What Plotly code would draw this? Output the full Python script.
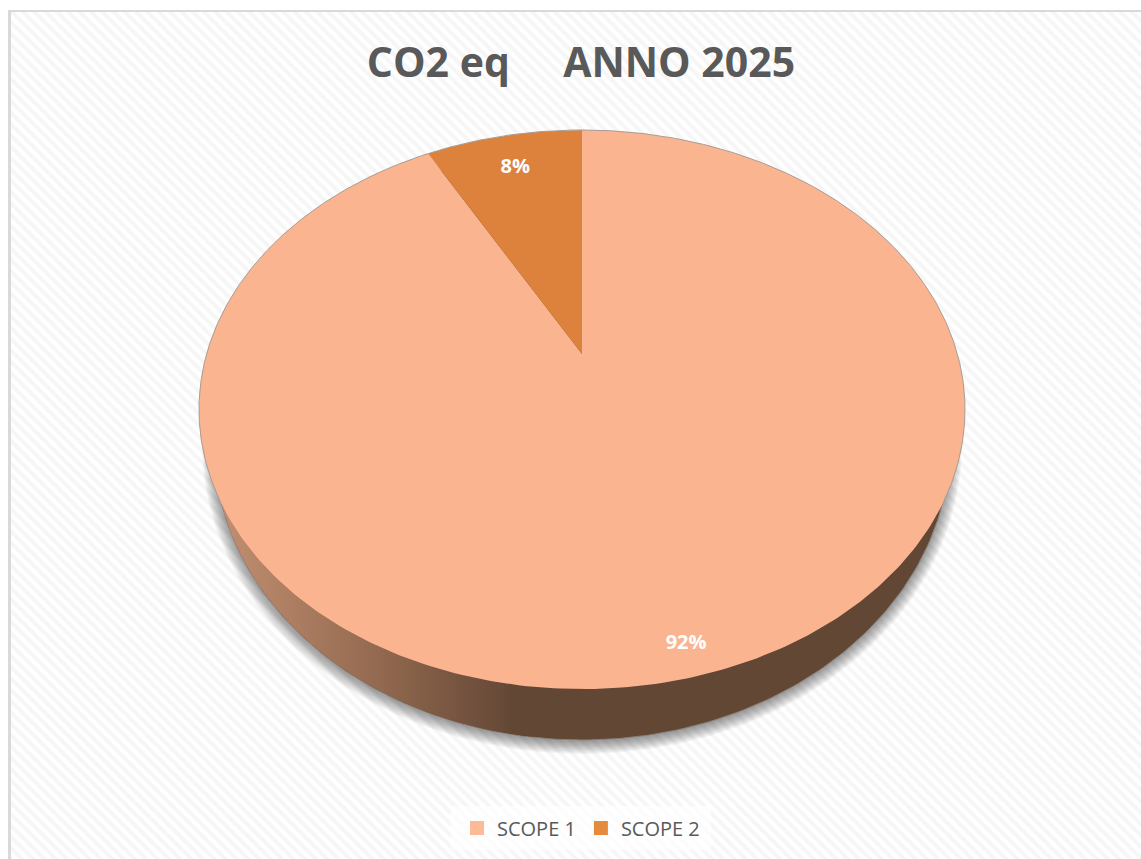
import numpy as np
import plotly.graph_objects as go

categories = ["SCOPE 1", "SCOPE 2"]
values = [92, 8]
slice_colors = ["#FBB490", "#DC823C"]
legend_colors = ["#FDBA96", "#E68A3E"]
title_text = "CO2 eq\u00a0\u00a0\u00a0\u00a0\u00a0ANNO 2025"

# projected disc
CX, CY0 = 582, 354
A, B, K = 375.4, 268.5, 0.1986


def project(frac, r=1.0):
    t = 2 * np.pi * np.asarray(frac, dtype=float)
    u, v = r * np.sin(t), r * np.cos(t)
    d = 1 + K * v
    return CX + A * u / d, CY0 - B * v / d


LOW = dict(cx=582, cy=444, rx=368, ry=296)


def low_y(x):
    return LOW["cy"] + LOW["ry"] * np.sqrt(np.clip(1 - ((x - LOW["cx"]) / LOW["rx"]) ** 2, 0, 1))


fig = go.Figure()

# hatched background
fig.add_trace(go.Scatter(
    x=[10, 1141, 1141, 10, 10], y=[11, 11, 859, 859, 11], mode="lines",
    fill="toself", line=dict(width=0), fillcolor="#FFFFFF",
    fillpattern=dict(shape="\\", fgcolor="#EEEEEE", bgcolor="#FFFFFF", size=8, solidity=0.5),
    hoverinfo="skip", showlegend=False))

# soft shadow
th = np.linspace(0, 2 * np.pi, 361)
for i in range(10):
    grow = 12 - i * 1.3
    fig.add_trace(go.Scatter(
        x=LOW["cx"] + (LOW["rx"] + grow) * np.cos(th),
        y=LOW["cy"] + 2 + (LOW["ry"] + grow) * np.sin(th),
        mode="lines", fill="toself", line=dict(width=0), fillcolor="rgba(0,0,0,0.045)",
        hoverinfo="skip", showlegend=False))

# side wall
fig.add_trace(go.Scatter(
    x=LOW["cx"] + LOW["rx"] * np.cos(th), y=LOW["cy"] + LOW["ry"] * np.sin(th),
    mode="lines", fill="toself", line=dict(width=1, color="#8A8078"), fillcolor="#624735",
    hoverinfo="skip", showlegend=False))
stops_x = [214, 380, 515]
stops_r = [196, 146, 98]
stops_g = [144, 105, 71]
stops_b = [114, 79, 53]
edges = np.arange(216, 530, 4)
for x0 in edges:
    xs = np.linspace(x0, x0 + 4.6, 4)
    col = "rgb(%d,%d,%d)" % (np.interp(x0, stops_x, stops_r), np.interp(x0, stops_x, stops_g), np.interp(x0, stops_x, stops_b))
    fig.add_trace(go.Scatter(
        x=np.r_[xs, xs[::-1]], y=np.r_[low_y(xs) - 0.5, np.full(4, LOW["cy"] + 40)],
        mode="lines", fill="toself", line=dict(width=0), fillcolor=col,
        hoverinfo="skip", showlegend=False))

# top face slices
bounds = np.cumsum([0] + values) / sum(values)
for i, name in enumerate(categories):
    f = np.linspace(bounds[i], bounds[i + 1], 400)
    x, y = project(f)
    fig.add_trace(go.Scatter(
        x=np.r_[CX, x, CX], y=np.r_[CY0, y, CY0], mode="lines", fill="toself",
        line=dict(width=0), fillcolor=slice_colors[i], hoverinfo="skip", showlegend=False))
f = np.linspace(0, 1, 720)
x, y = project(f)
y = np.where(y < 503, y, np.nan)
fig.add_trace(go.Scatter(x=x, y=y, mode="lines", line=dict(width=1, color="#A89C94"),
                         hoverinfo="skip", showlegend=False))

# percentage labels
label_r = [0.918, 0.83]
for i, v in enumerate(values):
    mid = (bounds[i] + bounds[i + 1]) / 2
    x, y = project(mid, label_r[i])
    fig.add_trace(go.Scatter(
        x=[float(x)], y=[float(y)], mode="text",
        text=["%d%%" % round(100 * v / sum(values))], textposition="middle center",
        textfont=dict(family="Open Sans", size=20, color="#FFFFFF", weight="bold"),
        hoverinfo="skip", showlegend=False))

# legend entries
for name, c in zip(categories, legend_colors):
    fig.add_trace(go.Scatter(
        x=[None], y=[None], mode="markers", name=name,
        marker=dict(symbol="square", size=14, color=c)))

fig.update_layout(
    width=1141, height=859, margin=dict(l=0, r=0, t=0, b=0),
    paper_bgcolor="#FFFFFF", plot_bgcolor="rgba(0,0,0,0)",
    xaxis=dict(range=[0, 1141], visible=False, fixedrange=True),
    yaxis=dict(range=[859, 0], visible=False, fixedrange=True),
    title=dict(text=title_text, x=581 / 1141, y=1 - 63 / 859, xanchor="center", yanchor="middle",
               font=dict(family="Open Sans", size=41, color="#595959", weight="bold")),
    legend=dict(orientation="h", x=581 / 1141, xanchor="center", y=1 - 828 / 859, yanchor="middle",
                bgcolor="rgba(0,0,0,0)", font=dict(family="Open Sans", size=20, color="#595959"),
                itemclick=False, itemdoubleclick=False),
    shapes=[dict(type="rect", xref="x", yref="y", x0=451, x1=711, y0=806, y1=850, line=dict(width=0),
                 fillcolor="rgba(255,255,255,0.7)"),
            dict(type="line", xref="x", yref="y", x0=9, x1=1141, y0=11, y1=11, line=dict(color="#D9D9D9", width=2)),
            dict(type="line", xref="x", yref="y", x0=9.5, x1=9.5, y0=10, y1=859, line=dict(color="#D9D9D9", width=3))],
)

fig.write_html("out.html", config={"displayModeBar": False},
               post_script="document.body.style.margin='0';document.body.style.overflow='hidden';")
